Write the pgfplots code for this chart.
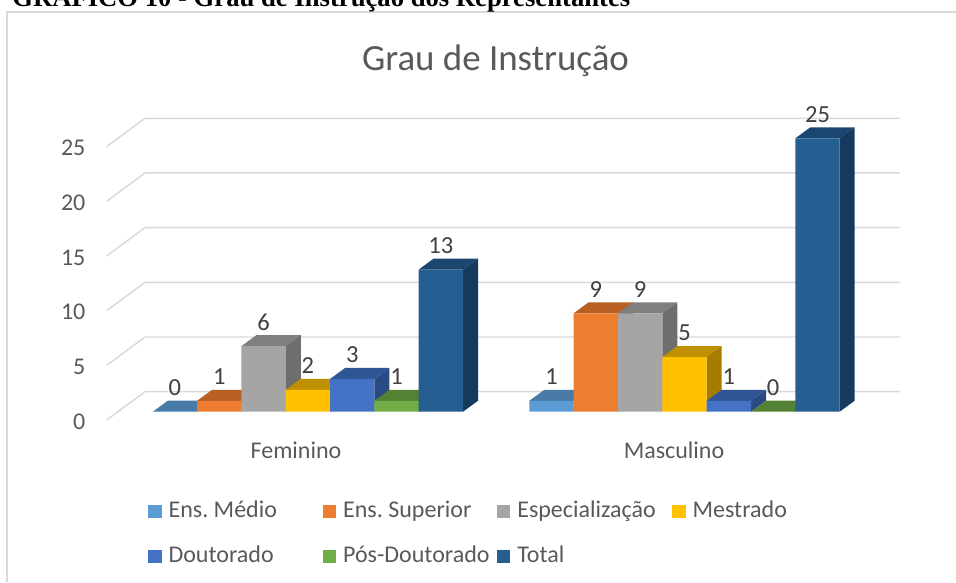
\documentclass[border=0pt]{standalone}
\usepackage{fontspec}
\setmainfont{Carlito}
\newfontfamily\headfont{Liberation Serif}
\usepackage{pgfplots}
\pgfplotsset{compat=1.18}
\definecolor{gridc}{HTML}{D9D9D9}
\definecolor{labc}{HTML}{595959}
\definecolor{valc}{HTML}{404040}
\definecolor{f1}{HTML}{5B9BD5}\definecolor{t1}{HTML}{487BA8}\definecolor{s1}{HTML}{3C6A92}
\definecolor{f2}{HTML}{ED7D31}\definecolor{t2}{HTML}{B85F24}\definecolor{s2}{HTML}{9C5321}
\definecolor{f3}{HTML}{A5A5A5}\definecolor{t3}{HTML}{7F7F7F}\definecolor{s3}{HTML}{6E6E6E}
\definecolor{f4}{HTML}{FFC000}\definecolor{t4}{HTML}{BF9000}\definecolor{s4}{HTML}{A67C00}
\definecolor{f5}{HTML}{4472C4}\definecolor{t5}{HTML}{2F5597}\definecolor{s5}{HTML}{2A4A84}
\definecolor{f6}{HTML}{70AD47}\definecolor{t6}{HTML}{548235}\definecolor{s6}{HTML}{4A732E}
\definecolor{f7}{HTML}{255E91}\definecolor{t7}{HTML}{1B4670}\definecolor{s7}{HTML}{163A5E}
\pgfplotsset{/pgf/number format/assume math mode=true}
\frenchspacing
% one bar's depth faces: centre x, value, top colour, side colour
\newcommand\faces[4]{%
  \pgfmathsetmacro\xa{#1-22.15}\pgfmathsetmacro\xb{#1+22.15}%
  \pgfmathsetmacro\xc{#1+37.15}\pgfmathsetmacro\xd{#1-7.15}%
  \pgfmathsetmacro\vt{#2+1.006}\pgfmathsetmacro\vb{1.006}%
  \addplot[forget plot,sharp plot,fill=#3,draw=none,mark=none] coordinates {(\xa,#2) (\xb,#2) (\xc,\vt) (\xd,\vt) (\xa,#2)};
  \addplot[forget plot,sharp plot,fill=#4,draw=none,mark=none] coordinates {(\xb,0) (\xc,\vb) (\xc,\vt) (\xb,#2) (\xb,0)};
}
% a whole series: x and value in both groups, colour index, legend text
\newcommand\series[7]{%
  \faces{#1}{#2}{t#5}{s#5}
  \faces{#3}{#4}{t#5}{s#5}
  \addplot[frontbar,fill=f#5] coordinates {(#1,#2) (#3,#4)};
  \addlegendentry{\makebox[#7][l]{\hspace{5.2pt}#6}}
}
\begin{document}
\begin{tikzpicture}
\useasboundingbox (0,0) rectangle (717pt,436.5pt);
\begin{axis}[
  at={(0,0)},anchor=south west,
  width=717pt,height=436.5pt,scale only axis,
  xmin=0,xmax=956,ymin=-15.572,ymax=37.647,
  clip=false,
  axis line style={draw=none},
  major tick length=0pt,
  tick style={draw=none},
  ytick={0,5,10,15,20,25},
  xtick={296,674},
  xticklabels={Feminino,Masculino},
  tick label style={font=\fontsize{18pt}{20pt}\selectfont,text=labc},
  yticklabel style={anchor=east,inner sep=0pt,xshift=64.2pt,yshift=-7.3pt},
  xticklabel style={anchor=center,inner sep=0pt,yshift=98.5pt},
  frontbar/.style={ybar,bar width=33.26pt,bar shift=0pt,draw=none,
    nodes near coords,
    every node near coord/.append style={anchor=center,yshift=18pt,inner sep=0pt,
      font=\fontsize{18.4pt}{20pt}\selectfont,text=valc},
    legend image code/.code={\path[##1,draw=none] (0pt,-5pt) rectangle (10pt,5pt);}},
  legend columns=4,
  legend cell align=left,
  legend style={at={(axis cs:148.3,-8.17)},anchor=north west,draw=none,fill=none,inner sep=0pt,outer sep=0pt,
    font=\fontsize{18pt}{20pt}\selectfont,text=labc,
    nodes={inner sep=0pt,outer sep=0pt,text height=12pt,text depth=4pt},
    row sep=17.75pt,column sep=0pt},
  title={Grau de Instrução},
  title style={at={(rel axis cs:0.5183,0.8814)},anchor=center,inner sep=0pt,
    font=\fontsize{27.7pt}{30pt}\selectfont,text=labc},
]
% frame of the chart
\draw[gridc,line width=1.6pt] (rel axis cs:0.0073,0) -- (rel axis cs:0.0073,0.979) -- (rel axis cs:1,0.979);
\node[anchor=base west,inner sep=0pt,font=\headfont\bfseries\fontsize{20pt}{22pt}\selectfont,text=black]
  at (rel axis cs:0.01255,0.9885) {GRÁFICO 10 - Grau de Instrução dos Representantes};
% gridlines with their floor-side slant
\addplot[forget plot,sharp plot,gridc,line width=1.1pt] coordinates {(106.7,-0.76) (145,1.83) (900,1.83)};
\addplot[forget plot,sharp plot,gridc,line width=1.1pt] coordinates {(106.7,4.24) (145,6.83) (900,6.83)};
\addplot[forget plot,sharp plot,gridc,line width=1.1pt] coordinates {(106.7,9.24) (145,11.83) (900,11.83)};
\addplot[forget plot,sharp plot,gridc,line width=1.1pt] coordinates {(106.7,14.24) (145,16.83) (900,16.83)};
\addplot[forget plot,sharp plot,gridc,line width=1.1pt] coordinates {(106.7,19.24) (145,21.83) (900,21.83)};
\addplot[forget plot,sharp plot,gridc,line width=1.1pt] coordinates {(106.7,24.24) (145,26.83) (900,26.83)};
% series
\series{174.95}{0}{551.5}{1}{1}{Ens. Médio}{120.95pt}
\series{219.3}{1}{595.8}{9}{2}{Ens. Superior}{120.6pt}
\series{263.6}{6}{640.2}{9}{3}{Especialização}{121.5pt}
\series{307.9}{2}{684.5}{5}{4}{Mestrado}{80pt}
\series{352.3}{3}{728.9}{1}{5}{Doutorado}{120.95pt}
\series{396.6}{1}{773.2}{0}{6}{Pós-Doutorado}{120.6pt}
\series{440.9}{13}{817.5}{25}{7}{Total}{121.5pt}
\end{axis}
\end{tikzpicture}
\end{document}
